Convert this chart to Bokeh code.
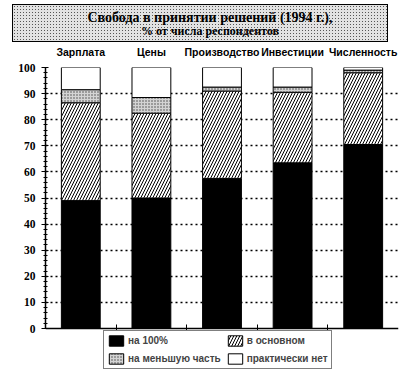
import numpy as np
from bokeh.plotting import figure
from bokeh.layouts import column
from bokeh.models import (Range1d, FixedTicker, Legend, LegendItem, LinearAxis,
                          ColumnDataSource, Span, Div, Grid)
from bokeh.embed import file_html
from bokeh.resources import INLINE

# ---- data ----
categories = ["Зарплата", "Цены", "Производство", "Инвестиции", "Численность"]
full_100 = [49, 50, 57.5, 63.5, 70.5]        # на 100%
mostly = [37.5, 32.5, 33.5, 27, 27.5]        # в основном
minor_part = [5, 6, 1.5, 2, 1]               # на меньшую часть
practically_none = [8.5, 11.5, 7.5, 7.5, 1]  # практически нет
series_names = ["на 100%", "в основном", "на меньшую часть", "практически нет"]
y_ticks = [0, 10, 20, 30, 40, 50, 60, 70, 80, 90, 100]
title_text = "Свобода в принятии решений (1994 г.),"
subtitle_text = "% от числа респондентов"

# ---- title box (HTML) ----
title_div = Div(
    text=(f'<div style="font:bold 14px \'Liberation Serif\';line-height:15px;">{title_text}</div>'
          f'<div style="font:bold 12px \'Liberation Serif\';line-height:13px;">{subtitle_text}</div>'),
    width=376, height=38, margin=(4, 12, 0, 12),
    styles={
        "box-sizing": "border-box",
        "border": "1.5px solid black",
        "background-color": "#e2e2e2",
        "background-image": "radial-gradient(#555555 0.8px, transparent 0.9px)",
        "background-size": "3px 3px",
        "text-align": "center",
        "padding": "5px 0 0 20px",
        "color": "black",
    },
)

# ---- main chart ----
xs = [i + 0.5 for i in range(len(categories))]
bounds = [i for i in range(1, len(categories))]
stack = np.cumsum(np.array([full_100, mostly, minor_part, practically_none]), axis=0)
src = ColumnDataSource(dict(
    x=xs,
    b0=[0] * len(xs), t0=stack[0],
    b1=stack[0], t1=stack[1],
    b2=stack[1], t2=stack[2],
    b3=stack[2], t3=stack[3],
))

p = figure(width=400, height=338, x_range=Range1d(0, len(categories)),
           y_range=Range1d(-19.92, 100),
           toolbar_location=None, output_backend="svg",
           min_border_left=45, min_border_right=2, min_border_top=25, min_border_bottom=0,
           x_axis_location=None, y_axis_location=None)
p.outline_line_color = None

bw = 0.55
r0 = p.vbar(x="x", bottom="b0", top="t0", width=bw, source=src,
            fill_color="black", line_color="black", line_width=1)
r1 = p.vbar(x="x", bottom="b1", top="t1", width=bw, source=src,
            fill_color="white", hatch_pattern="/", hatch_color="black",
            hatch_scale=6, hatch_weight=1, line_color="black", line_width=1)
r2 = p.vbar(x="x", bottom="b2", top="t2", width=bw, source=src,
            fill_color="#d4d4d4", hatch_pattern="dot", hatch_color="#444444",
            hatch_scale=3, line_color="black", line_width=1)
r3 = p.vbar(x="x", bottom="b3", top="t3", width=bw, source=src,
            fill_color="white", line_color="black", line_width=1)

# grid
p.ygrid.ticker = FixedTicker(ticks=y_ticks[1:-1])
p.ygrid.grid_line_color = "black"
p.ygrid.grid_line_dash = "2 3"
p.ygrid.grid_line_width = 1.5
# separator ticks on the baseline
if "cross_bounds" in Grid.properties():
    p.xgrid.ticker = FixedTicker(ticks=bounds)
    p.xgrid.cross_bounds = (-1.6, 1.6)
    p.xgrid.grid_line_color = "black"
    p.xgrid.grid_line_width = 1
else:
    p.xgrid.visible = False
    p.segment(x0=bounds, x1=bounds, y0=[-1.6] * len(bounds), y1=[1.6] * len(bounds),
              line_color="black", line_width=1)

# baseline
p.add_layout(Span(location=0, dimension="width", line_color="black", line_width=1.5))

# y axis
ya = LinearAxis(ticker=FixedTicker(ticks=y_ticks,
                                   minor_ticks=[float(v) for v in np.arange(0, 101, 2)]),
                bounds=(0, 100))
ya.axis_line_width = 1.5
ya.major_tick_in = 3
ya.major_tick_out = 4
ya.minor_tick_in = 2
ya.minor_tick_out = 2
ya.major_label_standoff = 6
ya.major_label_text_font = "Liberation Serif"
ya.major_label_text_font_style = "bold"
ya.major_label_text_font_size = "11.5px"
ya.major_label_text_color = "black"
p.add_layout(ya, "left")

# category labels on top
ta = LinearAxis(ticker=FixedTicker(ticks=xs),
                major_label_overrides={x: c for x, c in zip(xs, categories)})
ta.axis_line_color = None
ta.major_tick_line_color = None
ta.minor_tick_line_color = None
ta.major_label_standoff = 4
ta.major_label_text_font = "Liberation Sans"
ta.major_label_text_font_style = "bold"
ta.major_label_text_font_size = "10.5px"
ta.major_label_text_color = "black"
p.add_layout(ta, "above")

# legend (column-major fill: column 1 = на 100%, на меньшую часть)
legend = Legend(items=[LegendItem(label=series_names[0], renderers=[r0]),
                       LegendItem(label=series_names[2], renderers=[r2]),
                       LegendItem(label=series_names[1], renderers=[r1]),
                       LegendItem(label=series_names[3], renderers=[r3])],
                ncols=2, location=(58, 11))
legend.border_line_color = "black"
legend.border_line_width = 1.5
legend.background_fill_alpha = 1
legend.label_text_font = "Liberation Sans"
legend.label_text_font_style = "bold"
legend.label_text_font_size = "10px"
legend.glyph_width = 18
legend.glyph_height = 13
legend.label_height = 13
legend.label_standoff = 3
legend.spacing = 5
legend.padding = 3
legend.margin = 0
p.add_layout(legend)

layout = column(title_div, p, spacing=0)
open("out.html", "w").write(file_html(layout, INLINE))
